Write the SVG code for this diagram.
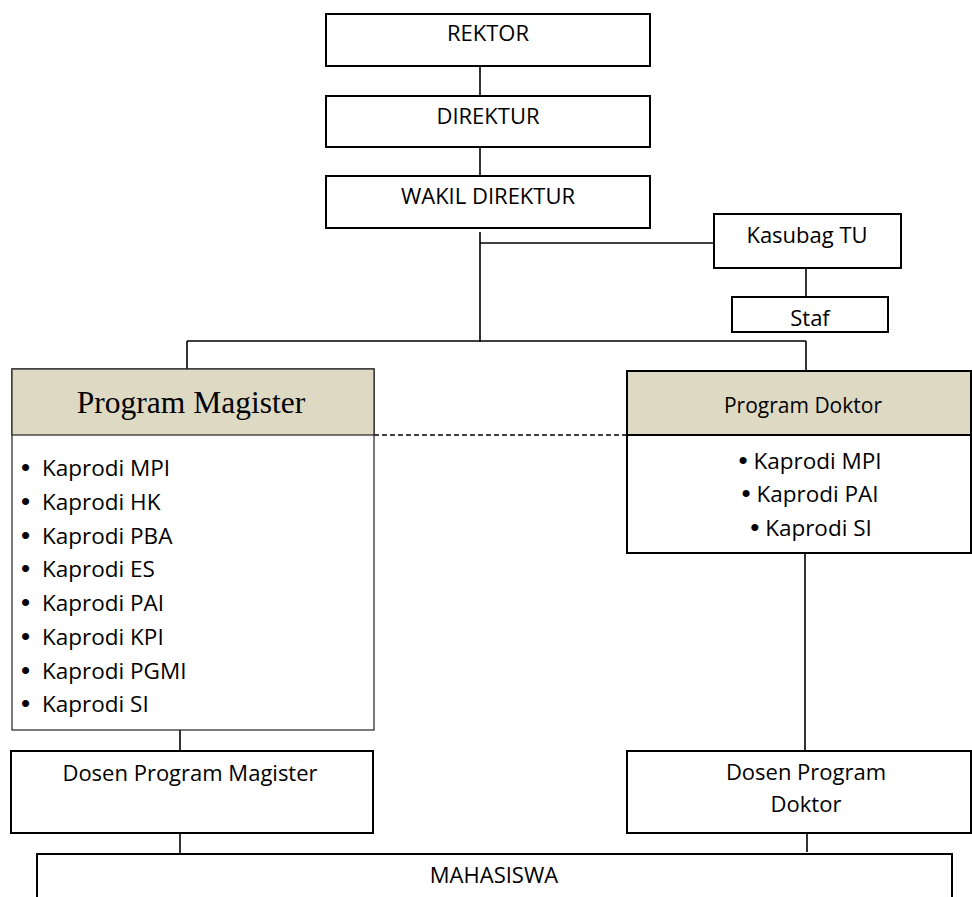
<svg xmlns="http://www.w3.org/2000/svg" width="972" height="897" viewBox="0 0 972 897">
<style>
.box{fill:#fff;stroke:#000;stroke-width:2}
.thin{fill:#fff;stroke:#222;stroke-width:1.2}
.hdr{fill:#ddd9c3}
.ln{stroke:#000;stroke-width:1.6;fill:none}
.t{font-family:"Open Sans","Noto Sans",sans-serif;font-size:22px;fill:#000}
.k{font-size:22.5px}
.b{font-family:"Liberation Sans",Arial,sans-serif;font-size:26px}
.c{text-anchor:middle}
</style>
<rect width="972" height="897" fill="#fff"/>
<g id="connectors">
<line class="ln" x1="480" y1="66" x2="480" y2="96"/>
<line class="ln" x1="480" y1="147" x2="480" y2="176"/>
<line class="ln" x1="480" y1="232" x2="480" y2="342"/>
<line class="ln" x1="480" y1="243" x2="714" y2="243"/>
<line class="ln" x1="806" y1="268" x2="806" y2="297"/>
<line class="ln" x1="187" y1="341" x2="806" y2="341"/>
<line class="ln" x1="187" y1="341" x2="187" y2="369"/>
<line class="ln" x1="806" y1="341" x2="806" y2="371"/>
<line class="ln" x1="374" y1="435" x2="627" y2="435" stroke-dasharray="5,3"/>
<line class="ln" x1="805" y1="553" x2="805" y2="751"/>
<line class="ln" x1="180" y1="730" x2="180" y2="751"/>
<line class="ln" x1="180" y1="833" x2="180" y2="854"/>
<line class="ln" x1="807" y1="833" x2="807" y2="852"/>
</g>
<g id="rektor">
<rect class="box" x="326" y="14" width="324" height="52"/>
<text class="t c" x="488" y="41">REKTOR</text>
</g>
<g id="direktur">
<rect class="box" x="326" y="96" width="324" height="51"/>
<text class="t c" x="488" y="124">DIREKTUR</text>
</g>
<g id="wakil">
<rect class="box" x="326" y="176" width="324" height="52"/>
<text class="t c" x="488" y="204">WAKIL DIREKTUR</text>
</g>
<g id="kasubag">
<rect class="box" x="714" y="214" width="187" height="54"/>
<text class="t c" x="807" y="243">Kasubag TU</text>
</g>
<g id="staf">
<rect class="box" x="732" y="297" width="156" height="35"/>
<text class="t c" x="810" y="326">Staf</text>
</g>
<g id="magister">
<rect class="thin" x="12" y="369" width="362" height="361"/>
<rect class="hdr" x="12" y="369" width="362" height="66" stroke="#222" stroke-width="1.2"/>
<text x="191" y="413" text-anchor="middle" font-family="'Liberation Serif','Times New Roman',serif" font-size="31.5" fill="#000">Program Magister</text>
<text class="t k"><tspan class="b" x="21" y="476">•</tspan><tspan x="42" y="476">Kaprodi MPI</tspan></text>
<text class="t k"><tspan class="b" x="21" y="510">•</tspan><tspan x="42" y="510">Kaprodi HK</tspan></text>
<text class="t k"><tspan class="b" x="21" y="544">•</tspan><tspan x="42" y="544">Kaprodi PBA</tspan></text>
<text class="t k"><tspan class="b" x="21" y="577">•</tspan><tspan x="42" y="577">Kaprodi ES</tspan></text>
<text class="t k"><tspan class="b" x="21" y="611">•</tspan><tspan x="42" y="611">Kaprodi PAI</tspan></text>
<text class="t k"><tspan class="b" x="21" y="645">•</tspan><tspan x="42" y="645">Kaprodi KPI</tspan></text>
<text class="t k"><tspan class="b" x="21" y="679">•</tspan><tspan x="42" y="679">Kaprodi PGMI</tspan></text>
<text class="t k"><tspan class="b" x="21" y="712">•</tspan><tspan x="42" y="712">Kaprodi SI</tspan></text>
</g>
<g id="doktor">
<rect class="box" x="627" y="371" width="344" height="182"/>
<rect class="hdr" x="627" y="371" width="344" height="64" stroke="#000" stroke-width="2"/>
<text class="t c" x="803" y="413" style="font-size:21px">Program Doktor</text>
<text class="t k c" x="810" y="469"><tspan class="b">•</tspan> Kaprodi MPI</text>
<text class="t k c" x="810" y="502"><tspan class="b">•</tspan> Kaprodi PAI</text>
<text class="t k c" x="811" y="536"><tspan class="b">•</tspan> Kaprodi SI</text>
</g>
<g id="dosen-magister">
<rect class="box" x="11" y="751" width="362" height="82"/>
<text class="t c" x="190" y="781">Dosen Program Magister</text>
</g>
<g id="dosen-doktor">
<rect class="box" x="627" y="751" width="344" height="82"/>
<text class="t c" x="806" y="780">Dosen Program</text>
<text class="t c" x="806" y="812">Doktor</text>
</g>
<g id="mahasiswa">
<rect class="box" x="37" y="854" width="915" height="60"/>
<text class="t c" x="494" y="883">MAHASISWA</text>
</g>
</svg>
